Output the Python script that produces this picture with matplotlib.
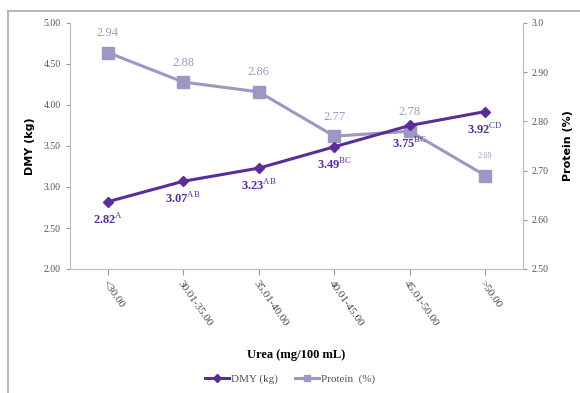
import matplotlib.pyplot as plt
from matplotlib.lines import Line2D

categories = ["<30.00", "30.01-35.00", "35.01-40.00", "40.01-45.00", "45.01-50.00", ">50.00"]
dmy = [2.82, 3.07, 3.23, 3.49, 3.75, 3.92]
dmy_sup = ["A", "AB", "AB", "BC", "BC", "CD"]
protein = [2.94, 2.88, 2.86, 2.77, 2.78, 2.69]
protein_txt = ["2.94", "2.88", "2.86", "2.77", "2.78", "2.69"]

dmy_color = "#5b2d9a"
prot_color = "#9c98c4"
grey = "#555555"
serif = ["Liberation Serif", "DejaVu Serif"]

plt.rcParams["mathtext.fontset"] = "custom"
plt.rcParams["mathtext.rm"] = "Liberation Serif"
plt.rcParams["mathtext.bf"] = "Liberation Serif:bold"

fig = plt.figure(figsize=(5.8, 3.93), dpi=100)
ax = fig.add_axes([70/580, 1 - 269/393, 453/580, 246/393])
ax2 = ax.twinx()

x = list(range(len(categories)))
ax.plot(x, dmy, color=dmy_color, lw=2.2, marker="D", ms=5, zorder=3)
ax2.plot(x, protein, color=prot_color, lw=2.2, marker="s", ms=8, zorder=2)

ax.set_zorder(ax2.get_zorder() + 1)
ax.patch.set_visible(False)

ax.set_xlim(-0.5, 5.5)
ax.set_ylim(2.0, 5.0)
ax.set_yticks([2.0, 2.5, 3.0, 3.5, 4.0, 4.5, 5.0])
ax.set_yticklabels(["2.00", "2.50", "3.00", "3.50", "4.00", "4.50", "5.00"])
ax2.set_ylim(2.5, 3.0)
ax2.set_yticks([2.5, 2.6, 2.7, 2.8, 2.9, 3.0])
ax2.set_yticklabels(["2.50", "2.60", "2.70", "2.80", "2.90", "3.0"])

ax.set_xticks(x)
ax.set_xticklabels(categories, rotation=-55, ha="left", rotation_mode="anchor",
                   family=serif, fontsize=8, color="#444444")
for lab in ax.get_yticklabels() + ax2.get_yticklabels():
    lab.set_family(serif)
    lab.set_fontsize(7)
    lab.set_color(grey)

for a in (ax, ax2):
    a.spines["top"].set_visible(False)
    a.tick_params(colors="#999999", labelcolor=grey, length=3, width=0.8)
    for s in ("left", "bottom", "right"):
        a.spines[s].set_color("#bbbbbb")
ax.tick_params(axis="x", length=4, labelcolor="#444444")
ax.spines["right"].set_visible(False)
ax2.spines["left"].set_visible(False)
ax2.spines["bottom"].set_visible(False)

# data labels
for i, v in enumerate(dmy):
    ax.annotate(f"{v:.2f}$^{{\\mathrm{{{dmy_sup[i]}}}}}$", (i, v), xytext=(0, -13),
                textcoords="offset points", ha="center", va="center",
                color=dmy_color, fontsize=9, fontweight="bold", family=serif)
for i, v in enumerate(protein):
    fs = 6 if i == 5 else 9
    ax2.annotate(protein_txt[i], (i, v), xytext=(0, 14), textcoords="offset points",
                 ha="center", va="center", color=prot_color, fontsize=fs, family=serif)

ax.set_ylabel("DMY (kg)", fontsize=8, fontweight="bold", va="center")
ax.yaxis.set_label_coords(-0.088, 0.5)
ax2.set_ylabel("Protein (%)", fontsize=8, fontweight="bold", labelpad=10)
ax.set_xlabel("Urea (mg/100 mL)", fontsize=9, fontweight="bold", family=serif, va="center")
ax.xaxis.set_label_coords(0.5, -0.35)

handles = [Line2D([], [], color=dmy_color, lw=2.2, marker="D", ms=4),
           Line2D([], [], color=prot_color, lw=2.2, marker="s", ms=5)]
fig.legend(handles, ["DMY (kg)", "Protein  (%)"], loc="center", bbox_to_anchor=(290/580, 1 - 379/393),
           ncol=2, frameon=False, prop={"family": serif, "size": 8}, handlelength=2.2,
           columnspacing=1.5, handletextpad=0.2, labelcolor=grey)

# outer frame (left and top)
fig.add_artist(Line2D([8/580, 8/580], [0, 1 - 11/393], color="#aaaaaa", lw=1.2, transform=fig.transFigure))
fig.add_artist(Line2D([8/580, 1], [1 - 11/393, 1 - 11/393], color="#aaaaaa", lw=1.2, transform=fig.transFigure))

fig.savefig("out.png", dpi=100)
